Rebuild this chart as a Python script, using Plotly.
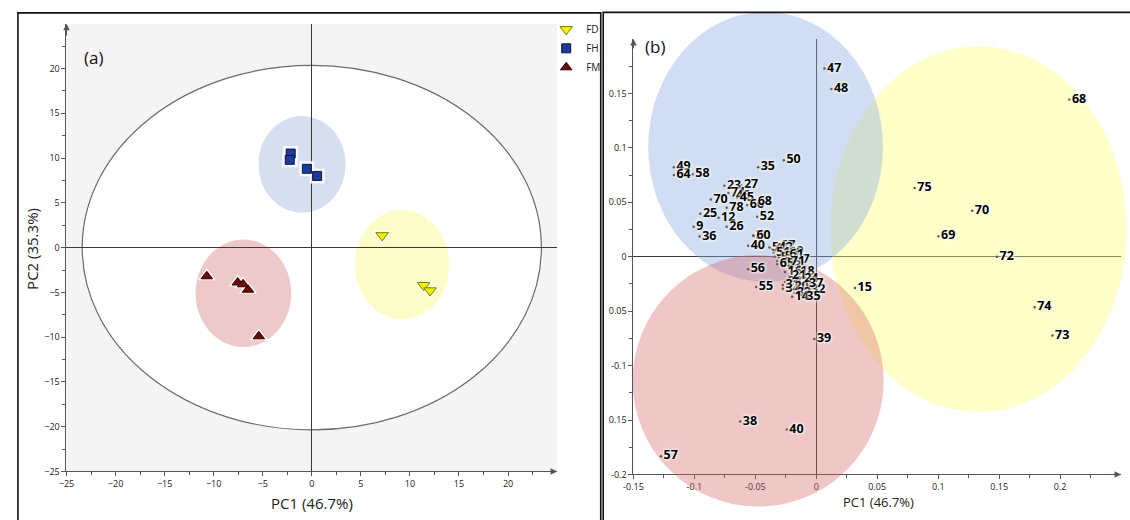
import plotly.graph_objects as go

W, H = 1130, 520

# ---------------- Panel (a): PCA scores ----------------
fd_pc1 = [7.17, 11.4, 12.05]
fd_pc2 = [1.36, -4.2, -4.8]
fh_pc1 = [-2.15, -2.25, -0.5, 0.54]
fh_pc2 = [10.5, 9.8, 8.8, 8.0]
fm_pc1 = [-10.7, -7.55, -7.0, -6.5, -5.4]
fm_pc2 = [-3.2, -3.9, -4.1, -4.7, -9.9]

# group ellipses in panel (a): FD, FH, FM  (centre x, centre y, radius x, radius y)
grp_cx_a = [9.2, -1.0, -6.97]
grp_cy_a = [-1.9, 9.3, -5.1]
grp_rx_a = [4.8, 4.45, 4.88]
grp_ry_a = [6.1, 5.4, 6.0]
# Hotelling T2 ellipse (semi-axes)
t2_rx, t2_ry = 23.4, 20.35

a_ticks = [-25, -20, -15, -10, -5, 0, 5, 10, 15, 20]
a_minor = [-22.5, -17.5, -12.5, -7.5, -2.5, 2.5, 7.5, 12.5, 17.5, 22.5]

# ---------------- Panel (b): loadings ----------------
load_labels = ["47", "48", "50", "35", "49", "64", "58", "23", "27", "74", "46", "45",
               "70", "78", "66", "68", "52", "25", "12", "26", "9", "36", "30", "60", "40",
               "59", "67", "19", "17", "10", "1", "2", "3", "4", "5", "6", "7", "8", "11", "13",
               "41", "42", "43", "44", "51", "53", "54", "61", "62", "63", "65", "71",
               "16", "18", "28", "22", "34", "31", "29", "20", "32", "21", "24", "33", "37",
               "14", "35", "56", "55", "15", "39", "38", "40", "57",
               "68", "75", "70", "69", "72", "74", "73"]
load_pc1 = [0.0067, 0.0124, -0.0266, -0.0477, -0.1168, -0.1168, -0.1014, -0.0754, -0.0615, -0.0721, -0.068, -0.0648,
            -0.0865, -0.0735, -0.0567, -0.0502, -0.0485, -0.0951, -0.0802, -0.0735, -0.1006, -0.0957, -0.0518, -0.0512, -0.0559,
            -0.0384, -0.0310, -0.0241, -0.0193, -0.0274, -0.033, -0.030, -0.028, -0.034, -0.029, -0.026, -0.032, -0.027, -0.031, -0.025,
            -0.036, -0.033, -0.030, -0.027, -0.035, -0.031, -0.028, -0.024, -0.029, -0.026, -0.032, -0.023,
            -0.0257, -0.0152, -0.0257, -0.0152, -0.0274, -0.0274, -0.0128, -0.0200, -0.0063, -0.022, -0.012, -0.018, -0.008,
            -0.0198, -0.0103, -0.0559, -0.0493, 0.0317, -0.0016, -0.0624, -0.0242, -0.1274,
            0.2076, 0.0807, 0.1279, 0.1002, 0.1482, 0.1791, 0.1937]
load_pc2 = [0.173, 0.154, 0.0886, 0.0823, 0.0823, 0.075, 0.0759, 0.0653, 0.0659, 0.0586, 0.0559, 0.0541,
            0.0525, 0.045, 0.0475, 0.0505, 0.0368, 0.0395, 0.0359, 0.0275, 0.0275, 0.0186, 0.0195, 0.0190, 0.0102,
            0.0086, 0.0104, 0.0041, -0.0032, -0.0066, 0.005, 0.002, 0.006, 0.000, -0.002, 0.001, -0.004, -0.004, 0.003, -0.001,
            0.007, 0.008, 0.004, 0.003, 0.004, -0.001, 0.000, 0.002, -0.006, -0.008, -0.007, -0.005,
            -0.0141, -0.0141, -0.0232, -0.0232, -0.0293, -0.0260, -0.0305, -0.0275, -0.0305, -0.018, -0.020, -0.033, -0.025,
            -0.0368, -0.0368, -0.0114, -0.0277, -0.0286, -0.0756, -0.1514, -0.1586, -0.1832,
            0.1444, 0.0632, 0.0423, 0.0189, 0.0, -0.0465, -0.0723]

# group ellipses in panel (b): FD, FH, FM
grp_cx_b = [0.133, -0.0416, -0.0477]
grp_cy_b = [0.0253, 0.1009, -0.114]
grp_rx_b = [0.1215, 0.0963, 0.103]
grp_ry_b = [0.168, 0.124, 0.1155]

b_xticks = [-0.15, -0.1, -0.05, 0, 0.05, 0.1, 0.15, 0.2]
b_xtext = ["-0.15", "-0.1", "-0.05", "0", "0.05", "0.1", "0.15", "0.2"]
b_xminor = [-0.125, -0.075, -0.025, 0.025, 0.075, 0.125, 0.175, 0.225]
b_yticks = [-0.2, -0.15, -0.1, -0.05, 0, 0.05, 0.1, 0.15]
b_ytext = ["-0.2", "0.15", "-0.1", "0.05", "0", "0.05", "0.1", "0.15"]
b_yminor = [-0.175, -0.125, -0.075, -0.025, 0.025, 0.075, 0.125, 0.175]

# ---------------- layout geometry ----------------
FONT = "Open Sans"
AX = "#555555"

ax_a = dict(x=[57 / W, 552 / W], y=[1 - 477 / H, 1 - 24 / H])
ax_b = dict(x=[629 / W, 1121 / W], y=[1 - 480 / H, 1 - 39.5 / H])
xr_b, yr_b = [-0.15, 0.25], [-0.2, 0.2]
ov_b = dict(x=[598 / W, 1.0], y=[0.0, 1 - 13 / H])


def ext_range(r, d, D):
    s = (r[1] - r[0]) / (d[1] - d[0])
    return [r[0] - (d[0] - D[0]) * s, r[1] + (D[1] - d[1]) * s]


xr_ov = ext_range(xr_b, ax_b["x"], ov_b["x"])
yr_ov = ext_range(yr_b, ax_b["y"], ov_b["y"])

fig = go.Figure()

# ---- panel (a) traces ----
groups = [
    ("FD", fd_pc1, fd_pc2, "triangle-down", 11, "#f2f200", "#7d7d00"),
    ("FH", fh_pc1, fh_pc2, "square", 9, "#1d3b98", "#07154a"),
    ("FM", fm_pc1, fm_pc2, "triangle-up", 10, "#6e0808", "#2a0000"),
]
for name, xs, ys, sym, sz, col, lc in groups:
    fig.add_trace(go.Scatter(x=xs, y=ys, mode="markers", xaxis="x", yaxis="y",
                             showlegend=False, hoverinfo="skip",
                             marker=dict(symbol=sym, size=sz + 6, color="rgba(255,255,255,0.85)",
                                         line=dict(width=0))))
for name, xs, ys, sym, sz, col, lc in groups:
    fig.add_trace(go.Scatter(x=xs, y=ys, mode="markers", name=name, xaxis="x", yaxis="y",
                             marker=dict(symbol=sym, size=sz, color=col, line=dict(color=lc, width=1))))

# ---- panel (b) traces ----
fig.add_trace(go.Scatter(x=[], y=[], xaxis="x2", yaxis="y2", showlegend=False))
fig.add_trace(go.Scatter(
    x=load_pc1, y=load_pc2, text=load_labels, mode="markers+text",
    xaxis="x3", yaxis="y3", showlegend=False, cliponaxis=False,
    marker=dict(size=2.5, color="#555555"),
    textposition="middle right",
    textfont=dict(family=FONT, size=12.5, color="#000000", weight="bold",
                  shadow="0px 0px 2px #ffffff, 0px 0px 3px #ffffff, 0px 0px 4px #ffffff"),
))

shapes = []
# panel (a) background and ellipses
shapes.append(dict(type="rect", xref="x domain", yref="y domain", x0=0, x1=1, y0=0, y1=1,
                   fillcolor="#f4f4f4", line=dict(width=0), layer="below"))
shapes.append(dict(type="circle", xref="x", yref="y", x0=-t2_rx, x1=t2_rx, y0=-t2_ry, y1=t2_ry,
                   fillcolor="#ffffff", line=dict(color="#6a6a6a", width=1.2), layer="below"))
fills_a = ["#fcfcc8", "#d5dff0", "#eec9c9"]
for cx, cy, rx, ry, fc in zip(grp_cx_a, grp_cy_a, grp_rx_a, grp_ry_a, fills_a):
    shapes.append(dict(type="circle", xref="x", yref="y", x0=cx - rx, x1=cx + rx, y0=cy - ry, y1=cy + ry,
                       fillcolor=fc, line=dict(width=0), layer="below"))
# panel (b) ellipses (semi-transparent)
fills_b = ["rgba(255,255,120,0.40)", "rgba(140,170,222,0.40)", "rgba(212,100,100,0.36)"]
for cx, cy, rx, ry, fc in zip(grp_cx_b, grp_cy_b, grp_rx_b, grp_ry_b, fills_b):
    shapes.append(dict(type="circle", xref="x3", yref="y3", x0=cx - rx, x1=cx + rx, y0=cy - ry, y1=cy + ry,
                       fillcolor=fc, line=dict(width=0), layer="below"))
# frames
shapes.append(dict(type="rect", xref="paper", yref="paper", x0=8 / W, x1=596 / W, y0=-0.05, y1=1 - 13 / H,
                   line=dict(color="#111111", width=1.6), fillcolor="rgba(0,0,0,0)"))
shapes.append(dict(type="rect", xref="paper", yref="paper", x0=598.5 / W, x1=1.05, y0=-0.05, y1=1 - 12.5 / H,
                   line=dict(color="#111111", width=1.6), fillcolor="rgba(0,0,0,0)"))

annotations = [
    dict(text="(a)", xref="paper", yref="paper", x=73 / W, y=1 - 58 / H, xanchor="left", yanchor="middle",
         showarrow=False, font=dict(family=FONT, size=17, color="#111111")),
    dict(text="(b)", xref="paper", yref="paper", x=639 / W, y=1 - 47 / H, xanchor="left", yanchor="middle",
         showarrow=False, font=dict(family=FONT, size=17, color="#111111")),
    dict(text="PC1 (46.7%)", xref="paper", yref="paper", x=305 / W, y=1 - 509 / H, xanchor="center",
         yanchor="middle", showarrow=False, font=dict(family=FONT, size=15, color="#222222")),
    dict(text="PC2 (35.3%)", xref="paper", yref="paper", x=22 / W, y=1 - 252 / H, xanchor="center",
         yanchor="middle", showarrow=False, textangle=-90, font=dict(family=FONT, size=15, color="#222222")),
    dict(text="PC1 (46.7%)", xref="paper", yref="paper", x=876 / W, y=1 - 508 / H, xanchor="center",
         yanchor="middle", showarrow=False, font=dict(family=FONT, size=13, color="#222222")),
    # axis arrows
    dict(x=25, y=-25, ax=23.5, ay=-25, xref="x", yref="y", axref="x", ayref="y", text="",
         showarrow=True, arrowhead=2, arrowsize=1.3, arrowwidth=1, arrowcolor=AX),
    dict(x=-25, y=25, ax=-25, ay=23.5, xref="x", yref="y", axref="x", ayref="y", text="",
         showarrow=True, arrowhead=2, arrowsize=1.3, arrowwidth=1, arrowcolor=AX),
    dict(x=0.25, y=-0.2, ax=0.238, ay=-0.2, xref="x2", yref="y2", axref="x2", ayref="y2", text="",
         showarrow=True, arrowhead=2, arrowsize=1.3, arrowwidth=1, arrowcolor=AX),
    dict(x=-0.15, y=0.2, ax=-0.15, ay=0.19, xref="x2", yref="y2", axref="x2", ayref="y2", text="",
         showarrow=True, arrowhead=2, arrowsize=1.3, arrowwidth=1, arrowcolor=AX),
]

tickfont = dict(family=FONT, size=9, color="#1a1a1a")
common = dict(showgrid=False, showline=True, linecolor=AX, linewidth=1, ticks="outside", ticklen=4,
              tickcolor=AX, tickwidth=1, zeroline=True, zerolinecolor="#3a3a3a", zerolinewidth=1,
              tickfont=tickfont, fixedrange=True)

fig.update_layout(
    width=W, height=H, margin=dict(l=0, r=0, t=0, b=0),
    paper_bgcolor="#ffffff", plot_bgcolor="rgba(0,0,0,0)",
    font=dict(family=FONT),
    xaxis=dict(domain=ax_a["x"], range=[-25, 25], anchor="y", tickvals=a_ticks,
               minor=dict(tickvals=a_minor, ticks="outside", ticklen=3, tickcolor=AX), **common),
    yaxis=dict(domain=ax_a["y"], range=[-25, 25], anchor="x", tickvals=a_ticks,
               minor=dict(tickvals=a_minor, ticks="outside", ticklen=3, tickcolor=AX), **common),
    xaxis2=dict(domain=ax_b["x"], range=xr_b, anchor="y2", tickvals=b_xticks, ticktext=b_xtext,
                minor=dict(tickvals=b_xminor, ticks="outside", ticklen=3, tickcolor=AX), **common),
    yaxis2=dict(domain=ax_b["y"], range=yr_b, anchor="x2", tickvals=b_yticks, ticktext=b_ytext,
                minor=dict(tickvals=b_yminor, ticks="outside", ticklen=3, tickcolor=AX), **common),
    xaxis3=dict(domain=ov_b["x"], range=xr_ov, anchor="y3", visible=False, fixedrange=True),
    yaxis3=dict(domain=ov_b["y"], range=yr_ov, anchor="x3", visible=False, fixedrange=True),
    shapes=shapes, annotations=annotations,
    legend=dict(x=541 / W, y=1 - 15 / H, xanchor="left", yanchor="top", bgcolor="rgba(0,0,0,0)",
                font=dict(family=FONT, size=10, color="#222222"), tracegroupgap=0, itemwidth=30),
)

post = ("document.documentElement.style.margin='0px';document.body.style.margin='0px';"
        "document.body.style.overflow='hidden';"
        "var d=document.getElementById('{plot_id}');d.style.position='fixed';d.style.left='0px';d.style.top='0px';")
fig.write_html("out.html", config={"displayModeBar": False}, post_script=post)
